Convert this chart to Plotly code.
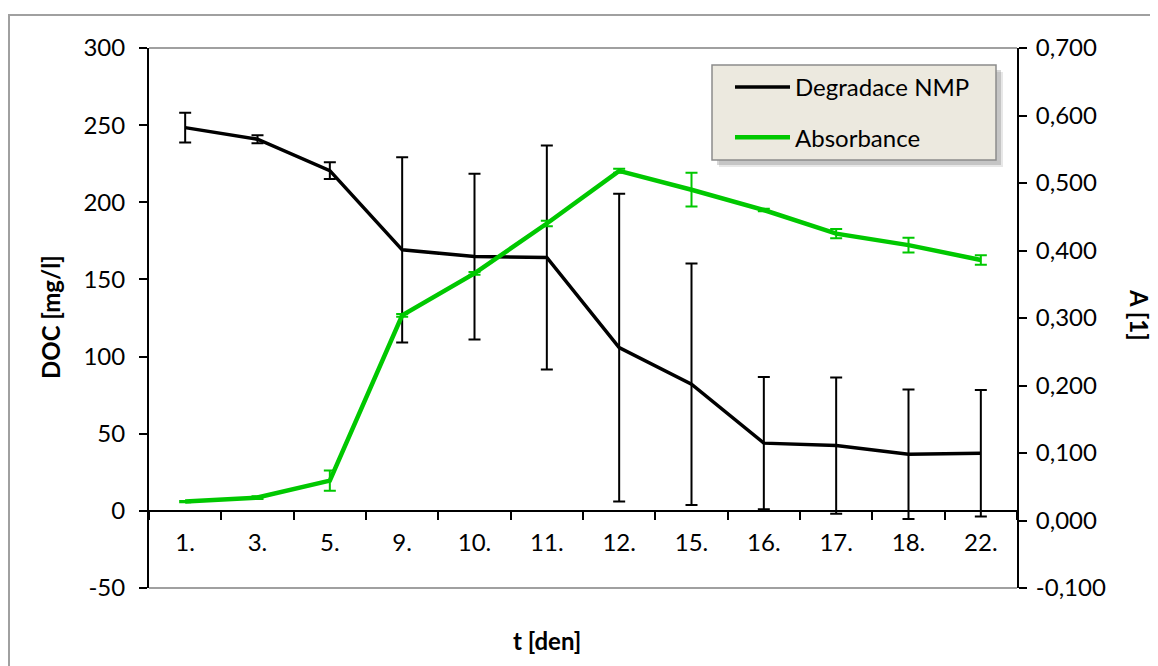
import plotly.graph_objects as go

days = ["1.", "3.", "5.", "9.", "10.", "11.", "12.", "15.", "16.", "17.", "18.", "22."]
doc = [248.4, 240.9, 220.5, 169.2, 164.8, 164.2, 105.8, 82.1, 43.9, 42.3, 36.7, 37.4]
doc_err = [9.7, 2.6, 5.4, 60.0, 53.7, 72.6, 99.8, 78.3, 42.8, 44.2, 42.0, 41.0]
absorb = [0.028, 0.034, 0.059, 0.304, 0.366, 0.440, 0.518, 0.490, 0.460, 0.425, 0.408, 0.386]
absorb_err = [0.001, 0.002, 0.015, 0.002, 0.002, 0.004, 0.003, 0.025, 0.002, 0.007, 0.011, 0.007]

doc_ticks = [-50, 0, 50, 100, 150, 200, 250, 300]
doc_ticktext = ["-50", "0", "50", "100", "150", "200", "250", "300"]
a_ticks = [-0.1, 0.0, 0.1, 0.2, 0.3, 0.4, 0.5, 0.6, 0.7]
a_ticktext = ["-0,100", "0,000", "0,100", "0,200", "0,300", "0,400", "0,500", "0,600", "0,700"]

FONT = "Lato"
FS = 24
GREEN = "#00C800"
OFF = 8  # browser body margin
W, H = 1158 - OFF, 666 - OFF
L, R, T, B = 149, 1017, 48, 588  # reference pixel frame


def px(x):
    return (x - L) / (R - L)


def py(y):
    return (B - y) / (B - T)


fig = go.Figure()
fig.add_trace(go.Scatter(
    x=days, y=doc, name="Degradace NMP", mode="lines",
    line=dict(color="black", width=3.5),
    error_y=dict(type="data", array=doc_err, color="black", thickness=2, width=6),
    legendgroup="a", yaxis="y",
))
fig.add_trace(go.Scatter(
    x=days, y=absorb, name="Absorbance", mode="lines",
    line=dict(color=GREEN, width=4.5),
    error_y=dict(type="data", array=absorb_err, color=GREEN, thickness=2, width=6),
    legendgroup="b", yaxis="y2",
))

tickfont = dict(family=FONT, size=FS, color="black")

fig.update_layout(
    width=W, height=H,
    margin=dict(l=L - OFF, r=W - (R - OFF), t=T - OFF, b=H - (B - OFF)),
    paper_bgcolor="white", plot_bgcolor="white",
    font=dict(family=FONT, size=FS, color="black"),
    showlegend=True,
    legend=dict(
        x=px(712), y=py(65), xanchor="left", yanchor="top",
        bgcolor="rgba(0,0,0,0)", borderwidth=0,
        font=dict(family=FONT, size=FS, color="black"),
        traceorder="grouped", tracegroupgap=16,
        itemwidth=55, indentation=18,
    ),
    xaxis=dict(
        type="category", range=[-0.5, 11.5],
        anchor="free", position=50 / 350,
        showline=True, linecolor="black", linewidth=2,
        ticks="outside", ticklen=8, tickwidth=2, tickcolor="black",
        tickson="boundaries", showgrid=False, zeroline=False,
        ticklabelstandoff=10,
        tickfont=tickfont,
    ),
    yaxis=dict(
        range=[-50, 300], tickmode="array", tickvals=doc_ticks, ticktext=doc_ticktext,
        showline=True, linecolor="black", linewidth=2,
        ticks="outside", ticklen=8, tickwidth=2, tickcolor="black",
        showgrid=False, zeroline=False, ticklabelstandoff=9,
        tickfont=tickfont,
    ),
    yaxis2=dict(
        range=[-0.1, 0.7], tickmode="array", tickvals=a_ticks, ticktext=a_ticktext,
        overlaying="y", side="right",
        showline=True, linecolor="black", linewidth=2,
        ticks="outside", ticklen=8, tickwidth=2, tickcolor="black",
        showgrid=False, zeroline=False, ticklabelstandoff=4,
        tickfont=tickfont,
    ),
)

shapes = [
    # outer chart border
    dict(type="rect", xref="paper", yref="paper",
         x0=px(9), x1=px(1180), y0=py(700), y1=py(15),
         line=dict(color="#A0A0A0", width=2), fillcolor="rgba(0,0,0,0)", layer="below"),
    # plot area top / bottom border
    dict(type="line", xref="paper", yref="paper", x0=0, x1=1, y0=1, y1=1,
         line=dict(color="#A0A0A0", width=2), layer="below"),
    dict(type="line", xref="paper", yref="paper", x0=0, x1=1, y0=0, y1=0,
         line=dict(color="#A0A0A0", width=2), layer="below"),
    # legend shadow (soft)
    dict(type="rect", xref="paper", yref="paper",
         x0=px(719), x1=px(1003), y0=py(167), y1=py(72),
         line=dict(width=0), fillcolor="rgba(120,120,120,0.18)", layer="above"),
    dict(type="rect", xref="paper", yref="paper",
         x0=px(717), x1=px(1001), y0=py(165), y1=py(70),
         line=dict(width=0), fillcolor="rgba(110,110,110,0.28)", layer="above"),
    # legend box
    dict(type="rect", xref="paper", yref="paper",
         x0=px(712), x1=px(996), y0=py(160), y1=py(65),
         line=dict(color="#8C8C8C", width=1.5), fillcolor="#ECE9DF", layer="above"),
]
fig.update_layout(shapes=shapes)

ann_font = dict(family=FONT, size=FS, color="black")
fig.add_annotation(text="<b>DOC [mg/l]</b>", xref="paper", yref="paper",
                   x=px(50), y=py(317), xanchor="center", yanchor="middle",
                   showarrow=False, textangle=-90, font=ann_font)
fig.add_annotation(text="<b>A [1]</b>", xref="paper", yref="paper",
                   x=px(1140), y=py(315), xanchor="center", yanchor="middle",
                   showarrow=False, textangle=90, font=ann_font)
fig.add_annotation(text="<b>t [den]</b>", xref="paper", yref="paper",
                   x=px(547), y=py(640), xanchor="center", yanchor="middle",
                   showarrow=False, font=ann_font)

fig.write_html("out.html")
